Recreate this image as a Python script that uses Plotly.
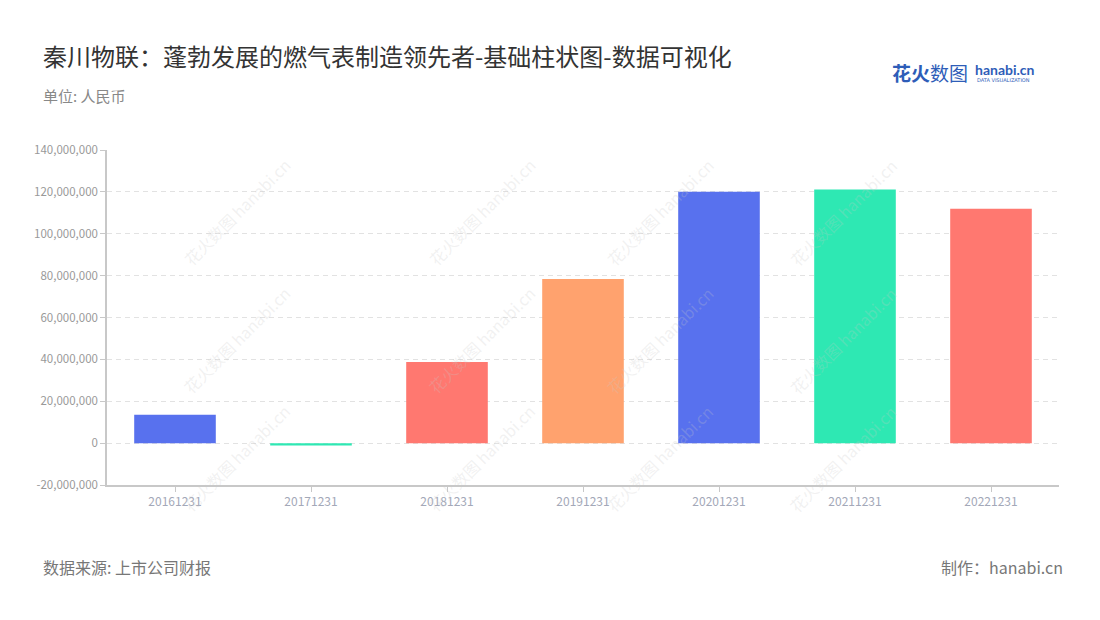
import plotly.graph_objects as go

categories = ["20161231", "20171231", "20181231", "20191231", "20201231", "20211231", "20221231"]
values = [13500000, -1100000, 38700000, 78400000, 120100000, 121100000, 112000000]
bar_colors = ["#5871EE", "#2EE8B3", "#FF7870", "#FFA26E", "#5871EE", "#2EE8B3", "#FF7870"]
y_ticks = [-20000000, 0, 20000000, 40000000, 60000000, 80000000, 100000000, 120000000, 140000000]
y_tick_labels = ["-20,000,000", "0", "20,000,000", "40,000,000", "60,000,000", "80,000,000",
                 "100,000,000", "120,000,000", "140,000,000"]

title_text = "秦川物联：蓬勃发展的燃气表制造领先者-基础柱状图-数据可视化"
unit_text = "单位: 人民币"
source_text = "数据来源: 上市公司财报"
maker_text = "制作：hanabi.cn"

FONT = "Noto Sans CJK SC"
OFF = 8  # page body margin
W, H = 1100 - OFF, 620 - OFF
L, R, T, B = 107 - OFF, 41, 150 - OFF, 135
PW, PH = W - L - R, H - T - B

fig = go.Figure()
fig.add_trace(go.Bar(
    x=categories, y=values, marker=dict(color=bar_colors, line=dict(width=0)),
    width=0.6, hoverinfo="x+y",
))

fig.update_layout(
    width=W, height=H,
    margin=dict(l=L, r=R, t=T, b=B, autoexpand=False),
    paper_bgcolor="white", plot_bgcolor="white",
    font=dict(family=FONT, color="#999999", size=12),
    showlegend=False,
    xaxis=dict(
        type="category", showgrid=False, showline=True, linecolor="#c8c8c8", linewidth=1.5,
        ticks="outside", ticklen=5, tickcolor="#c8c8c8",
        tickfont=dict(size=12, color="#a3a8b8", family=FONT),
    ),
    yaxis=dict(
        range=[-20000000, 140000000], tickvals=y_ticks, ticktext=y_tick_labels,
        showgrid=True, gridcolor="#e2e2e2", griddash="5px,4px", gridwidth=1,
        zeroline=False, showline=True, linecolor="#c8c8c8", linewidth=1.5,
        ticks="outside", ticklen=5, tickcolor="#c8c8c8",
        tickfont=dict(size=11.5, color="#999999", family=FONT),
    ),
)


def px2paper(x, y):
    return (x - OFF - L) / PW, 1 - (y - OFF - T) / PH


annotations = [
    dict(text=title_text, x=41, y=55, font=dict(size=24, color="#333333", family=FONT), xanchor="left"),
    dict(text=unit_text, x=41, y=96, font=dict(size=15, color="#888888", family=FONT), xanchor="left"),
    dict(text=source_text, x=41, y=567, font=dict(size=16, color="#777777", family=FONT), xanchor="left"),
    dict(text=maker_text, x=1065, y=567, font=dict(size=16, color="#777777", family=FONT), xanchor="right"),
    dict(text="<b>花火</b>数图", x=890, y=72, font=dict(size=19, color="#2E5DB8", family=FONT), xanchor="left"),
    dict(text="<b>hanabi.cn</b>", x=973, y=69, font=dict(size=14, color="#2E5DB8", family="Lato"), xanchor="left"),
    dict(text="DATA VISUALIZATION", x=975, y=80, font=dict(size=5, color="#2E5DB8", family="DejaVu Sans"), xanchor="left"),
]
for a in annotations:
    a["x"], a["y"] = px2paper(a["x"], a["y"])
    fig.add_annotation(xref="paper", yref="paper", showarrow=False, yanchor="middle", **a)

# faint watermarks
for wx in [175, 420, 660, 905]:
    for wy in [150, 340, 520]:
        x, y = px2paper(wx, wy)
        fig.add_annotation(
            text="花火数图 hanabi.cn", xref="paper", yref="paper",
            x=x, y=y, showarrow=False,
            textangle=-45, font=dict(size=16, color="rgba(200,200,200,0.25)", family=FONT),
        )

fig.write_html("out.html")
